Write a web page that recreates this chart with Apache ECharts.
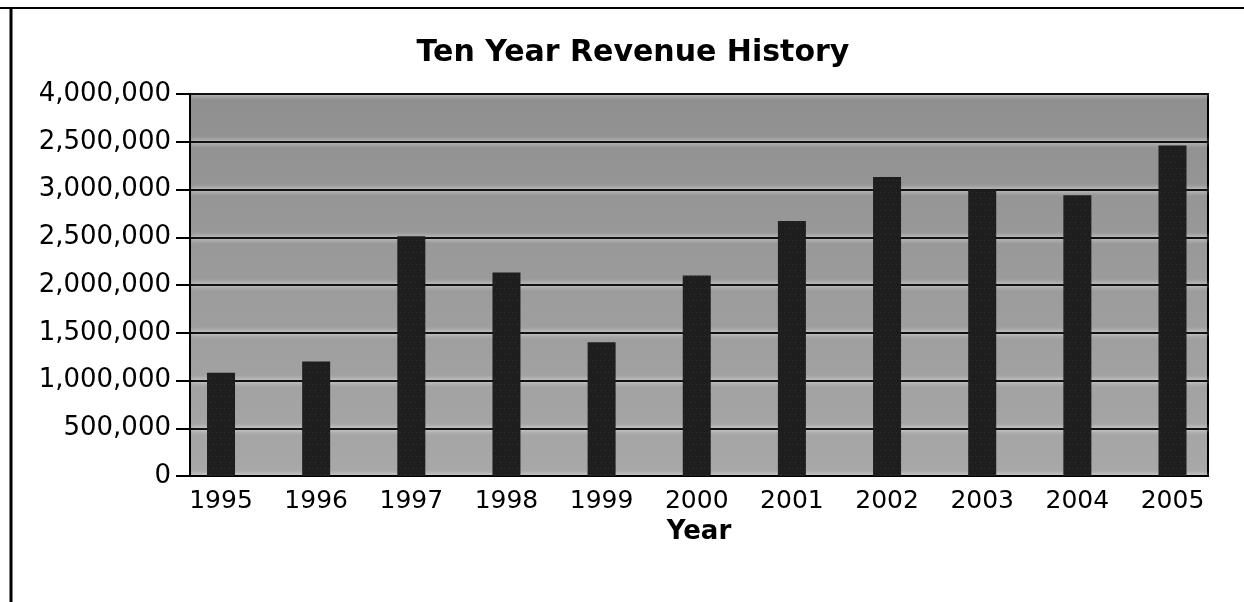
<!DOCTYPE html>
<html>
<head>
<meta charset="utf-8">
<script src="https://cdn.jsdelivr.net/npm/echarts@6/dist/echarts.min.js"></script>
<style>
html,body{margin:0;padding:0;background:#fff;}
#chart{width:1244px;height:602px;}
</style>
</head>
<body>
<div id="chart"></div>
<script>
var years = [1995, 1996, 1997, 1998, 1999, 2000, 2001, 2002, 2003, 2004, 2005];
var revenue = [1080000, 1200000, 2510000, 2130000, 1400000, 2100000, 2670000, 3130000, 3000000, 2940000, 3460000];
var yTickValues = [0, 500000, 1000000, 1500000, 2000000, 2500000, 3000000, 3500000, 4000000];
var yTickLabels = ['0', '500,000', '1,000,000', '1,500,000', '2,000,000', '2,500,000', '3,000,000', '2,500,000', '4,000,000'];
var titleText = 'Ten Year Revenue History';
var xAxisName = 'Year';

var chart = echarts.init(document.getElementById('chart'), null, {renderer: 'canvas'});
var option = {
  animation: false,
  backgroundColor: '#fff',
  title: {
    text: titleText,
    left: 628,
    top: 33,
    textAlign: 'center',
    textStyle: {fontFamily: 'DejaVu Sans', fontWeight: 'bold', fontSize: 30, color: '#000'}
  },
  grid: {
    left: 190, right: 36, top: 94, bottom: 126,
    show: true,
    borderColor: '#000',
    borderWidth: 2,
    backgroundColor: new echarts.graphic.LinearGradient(0, 0, 0, 1, [
      {offset: 0, color: '#8f8f8f'},
      {offset: 1, color: '#a8a8a8'}
    ])
  },
  xAxis: {
    type: 'value',
    min: 1994.674,
    max: 2005.373,
    name: xAxisName,
    nameLocation: 'middle',
    nameGap: 38,
    nameTextStyle: {fontFamily: 'DejaVu Sans', fontWeight: 'bold', fontSize: 26, color: '#000'},
    axisLine: {show: true, lineStyle: {color: '#000', width: 2}},
    axisTick: {show: false},
    splitLine: {show: false},
    axisLabel: {
      customValues: years,
      margin: 13,
      fontFamily: 'DejaVu Sans',
      fontSize: 25,
      color: '#000',
      formatter: function (v) { return String(Math.round(v)); }
    }
  },
  yAxis: {
    type: 'value',
    min: 0,
    max: 4000000,
    interval: 500000,
    axisLine: {show: true, lineStyle: {color: '#000', width: 2}},
    axisTick: {show: true, length: 14, lineStyle: {color: '#000', width: 2}},
    axisLabel: {
      margin: 19,
      fontFamily: 'DejaVu Sans',
      fontSize: 26,
      color: '#000',
      formatter: function (v) {
        var i = yTickValues.indexOf(v);
        return i >= 0 ? yTickLabels[i] : '';
      }
    },
    splitLine: {
      show: true,
      lineStyle: {color: '#111', width: 2, shadowColor: '#ffffff', shadowBlur: 5}
    }
  },
  series: [{
    type: 'bar',
    barWidth: 28,
    data: years.map(function (y, i) { return [y, revenue[i]]; }),
    itemStyle: {
      color: '#1e1e1e',
      decal: {
        symbol: 'rect',
        symbolSize: 0.5,
        color: 'rgba(255,255,255,0.35)',
        dashArrayX: [[1, 4], [1, 3]],
        dashArrayY: [1, 5],
        rotation: 0
      }
    }
  }],
  graphic: [
    {type: 'line', shape: {x1: 0, y1: 8, x2: 1244, y2: 8}, style: {stroke: '#000', lineWidth: 2}, silent: true},
    {type: 'line', shape: {x1: 11, y1: 8, x2: 11, y2: 602}, style: {stroke: '#000', lineWidth: 3}, silent: true}
  ]
};
chart.setOption(option);
</script>
</body>
</html>
